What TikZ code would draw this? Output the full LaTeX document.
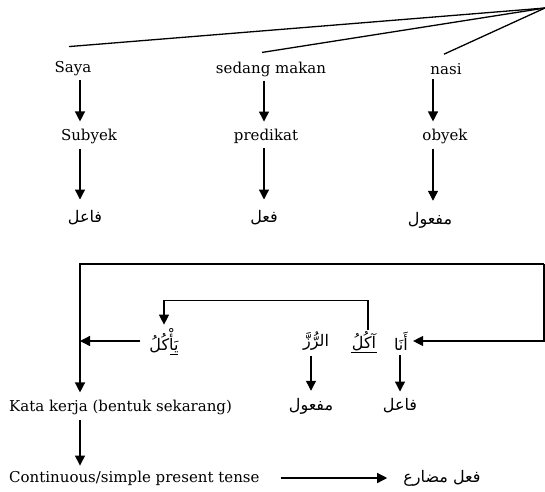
\documentclass[tikz,border=0pt]{standalone}
\usepackage{fontspec}
\setmainfont{DejaVu Serif}
\newfontfamily\arabicfont[Script=Arabic]{DejaVu Sans}
\TeXXeTstate=1
\usetikzlibrary{arrows.meta,positioning,calc}

\begin{document}
\begin{tikzpicture}[x=1pt,y=-1pt,
  lbl/.style={font=\fontsize{15}{17}\selectfont, inner sep=1pt},
  ar/.style={font=\arabicfont\fontsize{16}{19}\selectfont, inner sep=1pt},
  arr/.style={-{Triangle[length=10pt,width=10pt]}, line width=1.3pt},
  ln/.style={line width=1.3pt}]
\useasboundingbox (0,0) rectangle (545,491);
\coordinate (top) at (545,8);
\coordinate (k1) at (80,0); \coordinate (k2) at (264,0); \coordinate (k3) at (433,0);
% kalimat
\node[lbl] (saya) at (73,69) {Saya};
\node[lbl] (sedang) at (271,69) {sedang makan};
\node[lbl] (nasi) at (446,69) {nasi};
\draw[ln] (top) -- ([xshift=-4pt,yshift=14pt]saya.north);
\draw[ln] (top) -- ([xshift=-9pt,yshift=8pt]sedang.north);
\draw[ln] (top) -- ([xshift=-2pt,yshift=8pt]nasi.north);
% fungsi
\node[lbl] (subyek) at (89,136) {Subyek};
\node[lbl] (predikat) at (266,136) {predikat};
\node[lbl] (obyek) at (445,136) {obyek};
\node[ar] (fa1) at (85,218) {\beginR فاعل\endR};
\node[ar] (fi1) at (264,218) {\beginR فعل\endR};
\node[ar] (maf1) at (430,220) {\beginR مفعول\endR};
\foreach \a/\b/\c in {saya/subyek/k1, sedang/predikat/k2, nasi/obyek/k3}
  \draw[arr, shorten <=3pt, shorten >=6pt] (\a.south -| \c) -- (\b.north -| \c);
\foreach \a/\b/\c in {subyek/fa1/k1, predikat/fi1/k2, obyek/maf1/k3}
  \draw[arr, shorten <=4pt, shorten >=10pt] (\a.south -| \c) -- (\b.north -| \c);
% bahasa arab
\node[ar] (ana) at (401,341) {\beginR أَنَا\endR};
\node[ar] (akul) at (364,341) {\beginR آكُلُ\endR};
\node[ar] (ruzz) at (316,341) {\beginR الرُّزَّ\endR};
\node[ar] (yakul) at (164,341) {\beginR يَأْكُلُ\endR};
\draw[thin] (akul.south west) -- (akul.south east);
\draw[thin] ([xshift=-10pt]yakul.south east) -- ([xshift=-2pt]yakul.south east);
\node[lbl, anchor=west] (kata) at (8,407) {Kata kerja (bentuk sekarang)};
\node[ar] (maf2) at (311,406) {\beginR مفعول\endR};
\node[ar] (fa2) at (400,406) {\beginR فاعل\endR};
\node[lbl, anchor=west] (cont) at (8,478) {Continuous/simple present tense};
\node[ar] (mud) at (442,478) {\beginR فعل مضارع\endR};
% garis
\coordinate (fr) at (544,264);
\coordinate (fl) at (80,264);
\draw[arr, shorten >=6pt] (fr) -- (fl) -- (kata.north -| fl);
\draw[arr, shorten >=4pt] (fr) |- (ana.east);
\draw[arr, shorten <=8pt] (yakul.west) -- (yakul.west -| fl);
\draw[arr, shorten >=3pt] ([xshift=4pt]akul.north) -- ++(0,-30) -| (yakul.north);
\draw[arr, shorten <=4pt, shorten >=6pt] (ruzz.south -| maf2) -- (maf2.north);
\draw[arr, shorten <=4pt, shorten >=6pt] (ana.south -| fa2) -- (fa2.north);
\draw[arr, shorten <=4pt, shorten >=4pt] (kata.south -| fl) -- (cont.north -| fl);
\draw[arr, shorten <=20pt, shorten >=15pt] (cont.east) -- (mud.west);
\end{tikzpicture}
\end{document}
